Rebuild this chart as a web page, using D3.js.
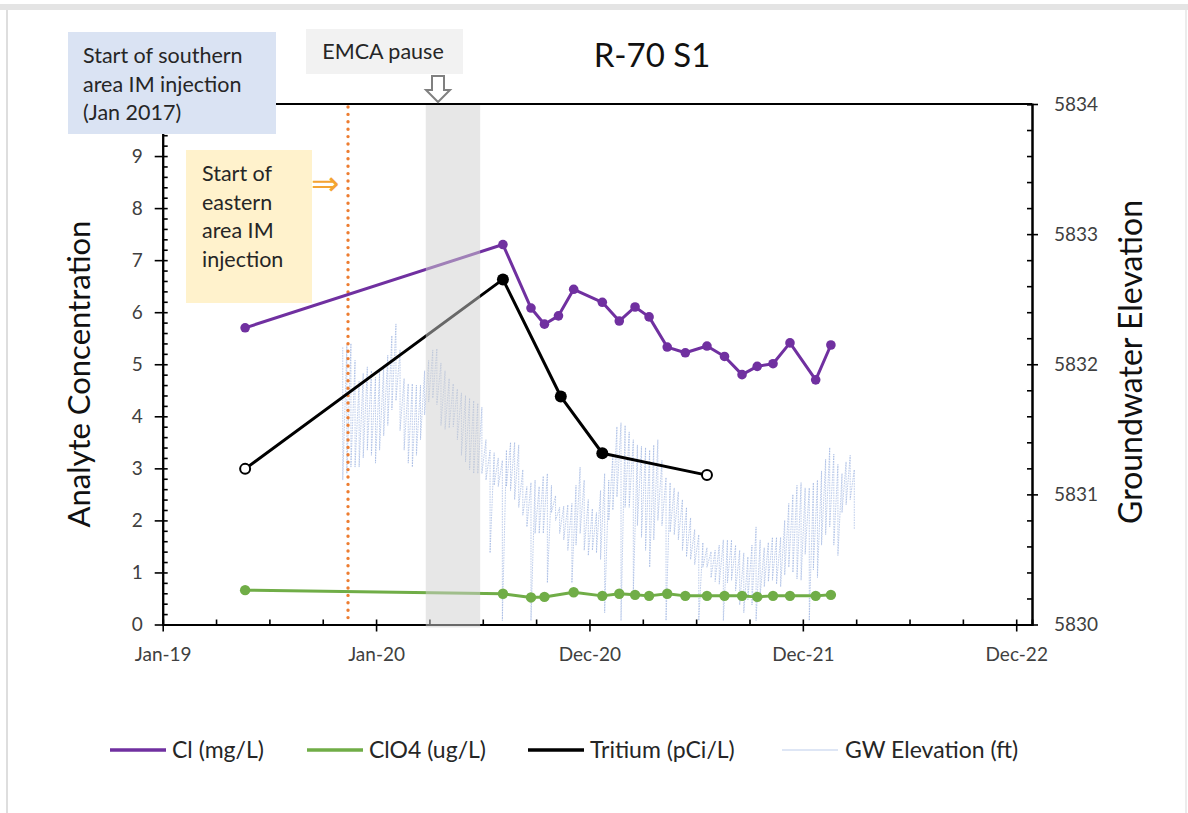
<!DOCTYPE html>
<html>
<head>
<meta charset="utf-8">
<script src="https://cdn.jsdelivr.net/npm/d3@7"></script>
<style>
  html, body { margin: 0; padding: 0; background: #fff; }
  svg { display: block; font-family: "Lato", "Open Sans", sans-serif; }
</style>
</head>
<body>
<svg id="chart" width="1188" height="813"></svg>
<script>
// ---------------- DATA ----------------
const clDates = ["2019-05-22","2020-08-05","2020-09-22","2020-10-15","2020-11-08","2020-12-04","2021-01-22","2021-02-20","2021-03-19","2021-04-12","2021-05-13","2021-06-13","2021-07-20","2021-08-19","2021-09-18","2021-10-14","2021-11-10","2021-12-09","2022-01-22","2022-02-17"];
const clValues = [5.70, 7.30, 6.08, 5.77, 5.93, 6.44, 6.19, 5.83, 6.10, 5.91, 5.33, 5.22, 5.35, 5.15, 4.80, 4.96, 5.01, 5.41, 4.70, 5.37];

const clo4Dates = ["2019-05-22","2020-08-05","2020-09-22","2020-10-15","2020-12-04","2021-01-22","2021-02-20","2021-03-19","2021-04-12","2021-05-13","2021-06-13","2021-07-20","2021-08-19","2021-09-18","2021-10-14","2021-11-10","2021-12-09","2022-01-22","2022-02-17"];
const clo4Values = [0.66, 0.59, 0.52, 0.53, 0.62, 0.55, 0.59, 0.57, 0.55, 0.59, 0.55, 0.55, 0.55, 0.55, 0.53, 0.55, 0.55, 0.55, 0.57];

const tritiumDates = ["2019-05-22","2020-08-05","2020-11-12","2021-01-22","2021-07-20"];
const tritiumValues = [2.99, 6.63, 4.38, 3.29, 2.87];
const tritiumNonDetect = [true, false, false, false, true];

// groundwater elevation (weekly high / low readings of the transducer record)
const gwStart = "2019-11-05";
const gwStepDays = 7;
const gwHigh = [
5832.13,5832.15,5832.16,5832.03,5831.87,5831.93,5831.98,5831.95,5831.90,5831.94,
5831.99,5832.07,5832.22,5832.31,5832.11,5831.89,5831.85,5831.85,5831.84,5831.84,
5831.95,5832.03,5832.11,5832.12,5832.01,5831.95,5831.89,5831.85,5831.81,5831.78,
5831.76,5831.74,5831.72,5831.70,5831.67,5831.42,5831.34,5831.32,5831.28,5831.26,
5831.34,5831.40,5831.40,5831.38,5831.19,5831.06,5831.09,5831.11,5831.06,5831.14,
5831.16,5831.07,5830.99,5830.90,5830.91,5830.92,5830.93,5831.07,5831.21,5831.11,
5830.96,5830.89,5830.86,5831.03,5831.16,5831.11,5831.30,5831.52,5831.55,5831.53,
5831.48,5831.42,5831.38,5831.37,5831.36,5831.34,5831.38,5831.42,5831.26,5831.13,
5831.09,5831.05,5831.02,5830.96,5830.90,5830.82,5830.73,5830.69,5830.63,5830.59,
5830.56,5830.57,5830.61,5830.65,5830.65,5830.65,5830.61,5830.57,5830.55,5830.52,
5830.61,5830.75,5830.65,5830.59,5830.63,5830.67,5830.67,5830.67,5830.80,5830.93,
5831.00,5831.07,5831.09,5831.05,5831.05,5831.09,5831.11,5831.18,5831.27,5831.36,
5831.31,5831.23,5831.16,5831.25,5831.30,5831.19];
const gwLow = [
5831.11,5831.16,5831.21,5831.21,5831.21,5831.28,5831.34,5831.30,5831.24,5831.34,
5831.45,5831.53,5831.65,5831.72,5831.49,5831.34,5831.24,5831.21,5831.30,5831.42,
5831.61,5831.71,5831.74,5831.69,5831.53,5831.50,5831.51,5831.52,5831.42,5831.30,
5831.25,5831.19,5831.16,5831.16,5831.16,5831.11,5830.55,5831.07,5831.06,5830.03,
5831.06,5831.03,5830.96,5830.90,5830.84,5830.75,5830.03,5830.70,5830.70,5830.70,
5830.32,5830.86,5830.80,5830.70,5830.65,5830.57,5830.32,5830.61,5830.70,5830.57,
5830.53,5830.57,5830.55,5830.50,5830.09,5830.80,5830.88,5830.98,5830.03,5830.90,
5830.90,5830.24,5830.76,5830.67,5830.57,5830.44,5830.65,5830.80,5830.76,5830.03,
5830.71,5830.69,5830.65,5830.57,5830.52,5830.50,5830.46,5830.03,5830.44,5830.44,
5830.36,5830.33,5830.31,5830.03,5830.32,5830.34,5830.26,5830.15,5830.09,5830.19,
5830.15,5830.03,5830.22,5830.29,5830.33,5830.34,5830.31,5830.29,5830.38,5830.44,
5830.40,5830.35,5830.34,5830.54,5830.03,5830.42,5830.36,5830.61,5830.69,5830.75,
5830.61,5830.53,5830.86,5830.92,5830.96,5830.73];

const xDomain = ["2019-01-01", "2023-01-27"];
const xTickDates = ["2019-01-01","2020-01-01","2020-12-31","2021-12-31","2022-12-31"];
const xTickLabels = ["Jan-19","Jan-20","Dec-20","Dec-21","Dec-22"];
const xMinorStepDays = 91.25;
const leftTicks = [0,1,2,3,4,5,6,7,8,9,10];
const leftTickLabels = ["0","1","2","3","4","5","6","7","8","9",""]; // "10" is hidden behind the note box
const rightTicks = [5830,5831,5832,5833,5834];

const emcaPause = ["2020-03-26", "2020-06-27"];
const eastInjectionDate = "2019-11-14";

const legendLabels = ["Cl (mg/L)", "ClO4 (ug/L)", "Tritium (pCi/L)", "GW Elevation (ft)"];
const legendColors = ["#7030A0", "#70AD47", "#000000", "#D3DEF2"];

// ---------------- SETUP ----------------
const parse = d3.timeParse("%Y-%m-%d");
const svg = d3.select("#chart");
const P = { left: 162.7, right: 1032, top: 104, bottom: 624.5 };

const x = d3.scaleTime().domain(xDomain.map(parse)).range([P.left, P.right]);
const yL = d3.scaleLinear().domain([0, 10]).range([P.bottom, P.top]);
const yR = d3.scaleLinear().domain([5830, 5834]).range([P.bottom, P.top]);

// frame
svg.append("rect").attr("x", 0).attr("y", 4).attr("width", 1188).attr("height", 6).attr("fill", "#e4e4e4");
svg.append("line").attr("x1", 7).attr("x2", 7).attr("y1", 10).attr("y2", 813).attr("stroke", "#dedede").attr("stroke-width", 2);
svg.append("line").attr("x1", 1186).attr("x2", 1186).attr("y1", 10).attr("y2", 813).attr("stroke", "#ececec").attr("stroke-width", 2);

// ---------------- GW elevation ----------------
const gw0 = parse(gwStart);
const gwPts = [];
gwHigh.forEach((h, i) => {
  const t = d3.timeDay.offset(gw0, i * gwStepDays);
  gwPts.push([t, h]);
  gwPts.push([t, gwLow[i]]);
});
svg.append("path")
  .datum(gwPts)
  .attr("fill", "none")
  .attr("stroke", "#8FAADC")
  .attr("stroke-width", 0.9)
  .attr("stroke-opacity", 0.65)
  .attr("stroke-dasharray", "1.6,1")
  .attr("d", d3.line().x(d => x(d[0])).y(d => yR(d[1])));

// ---------------- orange dotted line ----------------
svg.append("line")
  .attr("x1", x(parse(eastInjectionDate))).attr("x2", x(parse(eastInjectionDate)))
  .attr("y1", P.top + 3).attr("y2", P.bottom)
  .attr("stroke", "#ED7D31").attr("stroke-width", 3.4)
  .attr("stroke-dasharray", "0,7.4").attr("stroke-linecap", "round");

// ---------------- axes ----------------
const axisStyle = g => {
  g.select(".domain").attr("stroke", "#000").attr("stroke-width", 2);
  g.selectAll(".tick line").attr("stroke", "#000").attr("stroke-width", 1.6);
  g.selectAll(".tick text").attr("fill", "#404040").style("font-family", "Lato").style("font-size", "19px");
};

// top border
svg.append("line").attr("x1", P.left).attr("x2", P.right).attr("y1", P.top).attr("y2", P.top)
  .attr("stroke", "#000").attr("stroke-width", 2);

// left axis
svg.append("g").attr("transform", `translate(${P.left},0)`)
  .call(d3.axisLeft(yL).tickValues(leftTicks).tickFormat((d, i) => leftTickLabels[i]).tickSizeInner(8).tickSizeOuter(0).tickPadding(12))
  .call(axisStyle);
svg.append("g").attr("transform", `translate(${P.left},0)`)
  .call(d3.axisRight(yL).tickValues(d3.range(0, 10.001, 0.2)).tickSize(5).tickFormat(""))
  .call(axisStyle);

// bottom axis
const xMinor = d3.range(0, 1486, xMinorStepDays).map(d => d3.timeHour.offset(parse(xDomain[0]), Math.round(d * 24)));
svg.append("g").attr("transform", `translate(0,${P.bottom})`)
  .call(d3.axisBottom(x).tickValues(xTickDates.map(parse)).tickFormat((d, i) => xTickLabels[i]).tickSizeInner(7).tickSizeOuter(0).tickPadding(16))
  .call(axisStyle);
svg.append("g").attr("transform", `translate(0,${P.bottom})`)
  .call(d3.axisTop(x).tickValues(xMinor).tickSize(5).tickFormat(""))
  .call(axisStyle);

// right axis
svg.append("g").attr("transform", `translate(${P.right},0)`)
  .call(d3.axisRight(yR).tickValues(rightTicks).tickSizeInner(6).tickSizeOuter(0).tickPadding(16).tickFormat(d3.format("d")))
  .call(axisStyle);
svg.append("g").attr("transform", `translate(${P.right},0)`)
  .call(d3.axisLeft(yR).tickValues(d3.range(5830, 5834.001, 0.2)).tickSize(5).tickFormat(""))
  .call(axisStyle);

// ---------------- series ----------------
function drawSeries(dates, vals, color, width, r, hollow) {
  const pts = dates.map((d, i) => [parse(d), vals[i], hollow ? hollow[i] : false]);
  svg.append("path").datum(pts)
    .attr("fill", "none").attr("stroke", color).attr("stroke-width", width)
    .attr("stroke-linejoin", "round")
    .attr("d", d3.line().x(d => x(d[0])).y(d => yL(d[1])));
  svg.append("g").selectAll("circle").data(pts).join("circle")
    .attr("cx", d => x(d[0])).attr("cy", d => yL(d[1]))
    .attr("r", d => d[2] ? r - 1 : r)
    .attr("fill", d => d[2] ? "#fff" : color)
    .attr("stroke", color)
    .attr("stroke-width", d => d[2] ? 2 : 0);
}
drawSeries(clo4Dates, clo4Values, "#70AD47", 3, 5.2);
drawSeries(clDates, clValues, "#7030A0", 3, 4.8);
drawSeries(tritiumDates, tritiumValues, "#000000", 3, 6, tritiumNonDetect);

// ---------------- EMCA pause band (translucent overlay) ----------------
svg.append("rect")
  .attr("x", x(parse(emcaPause[0])))
  .attr("width", x(parse(emcaPause[1])) - x(parse(emcaPause[0])))
  .attr("y", P.top + 1).attr("height", P.bottom - P.top + 2)
  .attr("fill", "#d0d0d0").attr("fill-opacity", 0.5);

// ---------------- texts ----------------
svg.append("text").attr("x", 652).attr("y", 67).attr("text-anchor", "middle")
  .style("font-size", "33px").attr("fill", "#111").text("R-70 S1");

svg.append("text").attr("transform", "translate(90,374) rotate(-90)").attr("text-anchor", "middle")
  .style("font-size", "31px").attr("fill", "#111").text("Analyte Concentration");
svg.append("text").attr("transform", "translate(1142,362) rotate(-90)").attr("text-anchor", "middle")
  .style("font-size", "32px").attr("fill", "#111").text("Groundwater Elevation");

// annotation: southern area
svg.append("rect").attr("x", 68).attr("y", 32).attr("width", 208).attr("height", 102).attr("fill", "#DAE3F3");
["Start of southern", "area IM injection", "(Jan 2017)"].forEach((t, i) => {
  svg.append("text").attr("x", 83).attr("y", 63 + i * 28.5).style("font-size", "21.5px").attr("fill", "#262626").text(t);
});

// annotation: EMCA pause
svg.append("rect").attr("x", 306).attr("y", 29).attr("width", 157).attr("height", 45).attr("fill", "#F2F2F2");
svg.append("text").attr("x", 383).attr("y", 59).attr("text-anchor", "middle").style("font-size", "21.5px").attr("fill", "#262626").text("EMCA pause");
svg.append("path")
  .attr("d", "M432,76 L444,76 L444,90 L450,90 L438,102 L426,90 L432,90 Z")
  .attr("fill", "#fff").attr("stroke", "#808080").attr("stroke-width", 2).attr("stroke-linejoin", "miter");

// annotation: eastern area
svg.append("rect").attr("x", 186).attr("y", 150).attr("width", 126).attr("height", 153).attr("fill", "#FFF2CC");
["Start of", "eastern", "area IM", "injection"].forEach((t, i) => {
  svg.append("text").attr("x", 202).attr("y", 181 + i * 28.7).style("font-size", "21.5px").attr("fill", "#262626").text(t);
});
svg.append("text").attr("x", 311).attr("y", 195).style("font-family", "DejaVu Sans").style("font-size", "34px").attr("fill", "#F4A433").text("⇒");

// ---------------- legend ----------------
const legendX = [110, 307, 528, 782];
legendLabels.forEach((lab, i) => {
  svg.append("line").attr("x1", legendX[i]).attr("x2", legendX[i] + 56).attr("y1", 750).attr("y2", 750)
    .attr("stroke", legendColors[i]).attr("stroke-width", i === 3 ? 1.5 : 3.5);
  svg.append("text").attr("x", legendX[i] + (i === 3 ? 63 : 62)).attr("y", 758).style("font-size", "23px")
    .attr("fill", "#262626").text(lab);
});
</script>
</body>
</html>
